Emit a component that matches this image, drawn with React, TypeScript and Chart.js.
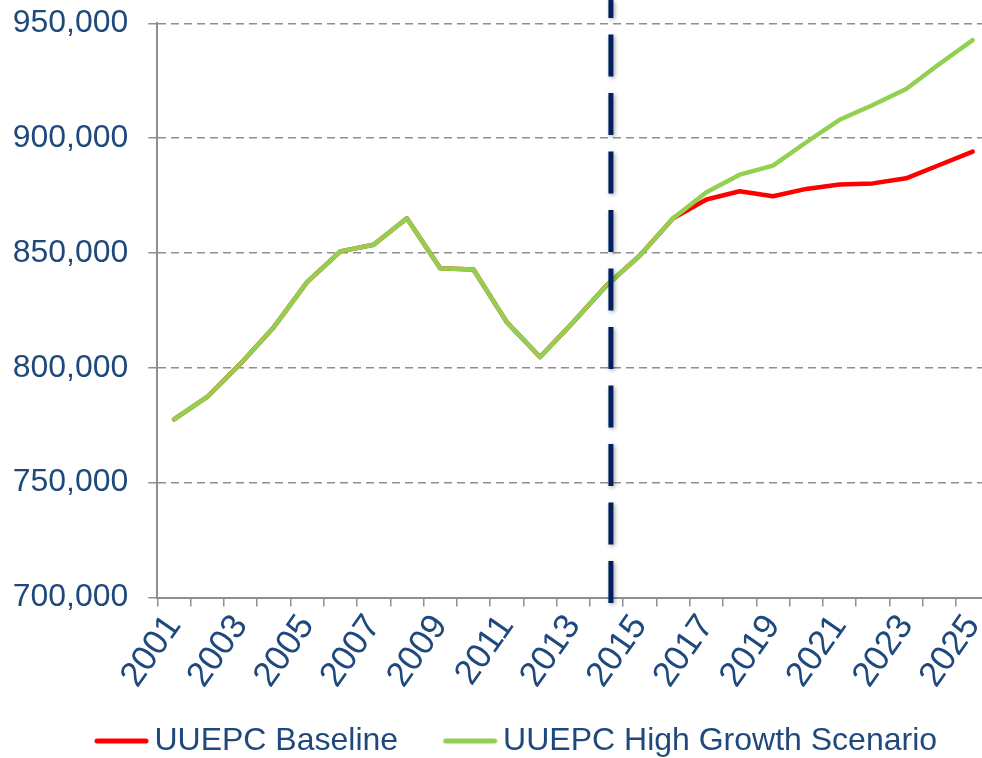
import React, { useEffect, useRef } from "react";
import { Chart, registerables } from "chart.js";

Chart.register(...registerables);

const years = [
  "2001", "2002", "2003", "2004", "2005", "2006", "2007", "2008", "2009", "2010",
  "2011", "2012", "2013", "2014", "2015", "2016", "2017", "2018", "2019", "2020",
  "2021", "2022", "2023", "2024", "2025",
];

const baseline = [
  777600, 787300, 801800, 817700, 837300, 850700, 853600, 865100, 843400, 842800,
  819900, 804700, 819900, 835900, 848900, 865100, 873300, 876900, 874700, 877900,
  879800, 880300, 882500, 888300, 894100,
];

const highGrowth = [
  777600, 787300, 801800, 817700, 837300, 850700, 853600, 865100, 843400, 842800,
  819900, 804700, 819900, 835900, 848900, 865100, 876400, 884100, 888000, 898200,
  908000, 914400, 921400, 932300, 942700,
];

const seriesNames = ["UUEPC Baseline", "UUEPC High Growth Scenario"];
const yMin = 700000;
const yMax = 950000;
const yStep = 50000;
const dividerYear = "2014";
const dividerShift = 0.13;

const NAVY = "#1F497D";
const GRID = "#8f8f8f";
const RED = "#FF0000";
const GREEN = "#92D050";
const FONT = "'Liberation Sans', Arial, sans-serif";

// legend swatch: transparent left half so the line sits close to the text
function makeSwatch(color: string) {
  const c = document.createElement("canvas");
  c.width = 110;
  c.height = 6;
  const g = c.getContext("2d")!;
  g.strokeStyle = color;
  g.lineWidth = 5;
  g.lineCap = "round";
  g.beginPath();
  g.moveTo(53, 3);
  g.lineTo(102, 3);
  g.stroke();
  return c;
}

const dividerPlugin = {
  id: "divider",
  afterDatasetsDraw(chart: any) {
    const x = chart.scales.x;
    const idx = years.indexOf(dividerYear);
    const p0 = x.getPixelForValue(idx);
    const p1 = x.getPixelForValue(idx + 1);
    const px = p0 + dividerShift * (p1 - p0);
    const ctx = chart.ctx;
    ctx.save();
    ctx.strokeStyle = "#002060";
    ctx.lineWidth = 5;
    ctx.setLineDash([42, 16.5]);
    ctx.shadowColor = "rgba(0,0,0,0.35)";
    ctx.shadowBlur = 4;
    ctx.shadowOffsetX = 1.5;
    ctx.shadowOffsetY = 1.5;
    ctx.beginPath();
    ctx.moveTo(px, chart.chartArea.bottom + 5.5);
    ctx.lineTo(px, 0);
    ctx.stroke();
    ctx.restore();
  },
};

export default function App() {
  const ref = useRef<HTMLCanvasElement>(null);

  useEffect(() => {
    const canvas = ref.current!;
    const chart = new Chart(canvas, {
      type: "line",
      data: {
        labels: years,
        datasets: [
          {
            label: seriesNames[0],
            data: baseline,
            borderColor: RED,
            backgroundColor: RED,
            borderWidth: 4.5,
            borderCapStyle: "round",
            borderJoinStyle: "round",
            pointRadius: 0,
            pointStyle: makeSwatch(RED) as any,
            tension: 0,
            order: 1,
          },
          {
            label: seriesNames[1],
            data: highGrowth,
            borderColor: GREEN,
            backgroundColor: GREEN,
            borderWidth: 4.5,
            borderCapStyle: "round",
            borderJoinStyle: "round",
            pointRadius: 0,
            pointStyle: makeSwatch(GREEN) as any,
            tension: 0,
            order: 0,
          },
        ],
      },
      options: {
        animation: false,
        responsive: false,
        devicePixelRatio: 1,
        events: [],
        layout: { padding: { left: 7.2, right: 30.7, top: 23.3, bottom: 0 } },
        plugins: {
          tooltip: { enabled: false },
          legend: {
            position: "bottom",
            labels: {
              usePointStyle: true,
              pointStyleWidth: 79,
              padding: 10,
              color: NAVY,
              font: { family: FONT, size: 32 },
              sort: (a: any, b: any) => a.datasetIndex - b.datasetIndex,
            },
          },
        },
        scales: {
          x: {
            type: "category",
            offset: true,
            afterFit: (s: any) => {
              s.height = 117.5;
            },
            grid: {
              offset: true,
              drawOnChartArea: false,
              drawTicks: true,
              tickLength: 9,
              color: GRID,
              lineWidth: 1.5,
            },
            border: { display: true, color: GRID, width: 2 },
            ticks: {
              autoSkip: false,
              maxRotation: 55,
              minRotation: 55,
              padding: 1,
              color: NAVY,
              font: { family: FONT, size: 35 },
              callback: (_v: any, i: number) => (i % 2 === 0 ? years[i] : ""),
            },
          },
          y: {
            min: yMin,
            max: yMax,
            afterFit: (s: any) => {
              s.width = 150.1;
            },
            grid: {
              color: GRID,
              lineWidth: 1.5,
              tickLength: 9,
              tickBorderDash: [],
              tickColor: GRID,
              tickWidth: 1.5,
            },
            border: { display: true, color: GRID, width: 2, dash: [8, 5] },
            ticks: {
              stepSize: yStep,
              padding: 20,
              color: NAVY,
              font: { family: FONT, size: 32, lineHeight: 0.2 },
              callback: (v: any) => Number(v).toLocaleString("en-US"),
            },
          },
        },
      },
      plugins: [dividerPlugin],
    });
    return () => chart.destroy();
  }, []);

  return (
    <div style={{ position: "fixed", left: 0, top: 0, background: "#fff" }}>
      <canvas ref={ref} width={1020} height={767} style={{ display: "block", width: 1020, height: 767 }} />
    </div>
  );
}
